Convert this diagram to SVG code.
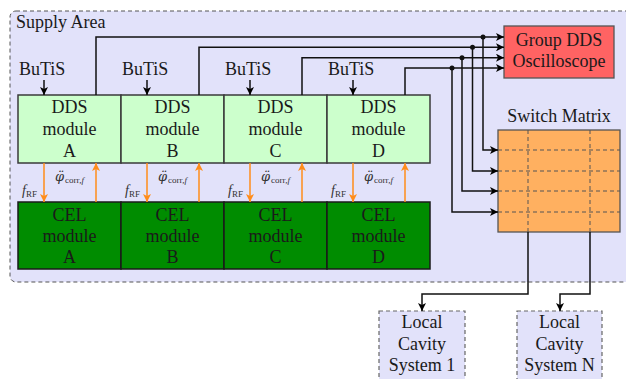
<svg xmlns="http://www.w3.org/2000/svg" width="626" height="379" viewBox="0 0 626 379">
<defs>
<marker id="ab" viewBox="0 0 10 10" refX="10" refY="5" markerWidth="8" markerHeight="8" markerUnits="userSpaceOnUse" orient="auto"><path d="M0,0 L10,5 L0,10 L2.5,5 Z" fill="#000"/></marker>
<marker id="ao" viewBox="0 0 10 10" refX="10" refY="5" markerWidth="8" markerHeight="8" markerUnits="userSpaceOnUse" orient="auto"><path d="M0,0 L10,5 L0,10 L2.5,5 Z" fill="#ff8c1a"/></marker>
<style>
text{font-family:"Liberation Serif","Times New Roman",serif;font-size:18px;fill:#1a1a1a;text-anchor:middle}
.area{fill:#e2e2fa;stroke:#555;stroke-width:1;stroke-dasharray:4 3}
.dds{fill:#ccffcc;stroke:#3a3a3a;stroke-width:1.5}
.cel{fill:#008c00;stroke:#1a1a1a;stroke-width:1.5}
.grp{fill:#ff6363;stroke:#555;stroke-width:1.3}
.sw{fill:#ffb060;stroke:#555;stroke-width:1.3}
.grid{stroke:#555;stroke-width:1;stroke-dasharray:4 3;fill:none}
.lc{fill:#e2e2fa;stroke:#666;stroke-width:1.2;stroke-dasharray:4 3}
.c{fill:none;stroke:#111;stroke-width:1.5}
.o{fill:none;stroke:#ff8c1a;stroke-width:1.5}
.lab{font-size:18px;text-anchor:start}
.sm{font-size:14px;text-anchor:start;font-style:italic;fill:#333}
.phi{font-family:"DejaVu Serif",serif;font-size:13px;font-style:italic}
.sub{font-size:9px;font-style:normal}
</style>
</defs>
<g id="supply-area">
<rect class="area" x="10" y="11" width="625" height="271" rx="6"/>
<text class="lab" x="16" y="28">Supply Area</text>
</g>
<g id="dds-a"><rect class="dds" x="18" y="95" width="103" height="68"/><text x="69.5" y="113">DDS</text><text x="69.5" y="135">module</text><text x="69.5" y="157">A</text></g>
<g id="dds-b"><rect class="dds" x="121" y="95" width="103" height="68"/><text x="172.5" y="113">DDS</text><text x="172.5" y="135">module</text><text x="172.5" y="157">B</text></g>
<g id="dds-c"><rect class="dds" x="224" y="95" width="103" height="68"/><text x="275.5" y="113">DDS</text><text x="275.5" y="135">module</text><text x="275.5" y="157">C</text></g>
<g id="dds-d"><rect class="dds" x="327" y="95" width="103" height="68"/><text x="378.5" y="113">DDS</text><text x="378.5" y="135">module</text><text x="378.5" y="157">D</text></g>
<g id="cel-a"><rect class="cel" x="18" y="202" width="103" height="67"/><text x="69.5" y="221">CEL</text><text x="69.5" y="242">module</text><text x="69.5" y="263">A</text></g>
<g id="cel-b"><rect class="cel" x="121" y="202" width="103" height="67"/><text x="172.5" y="221">CEL</text><text x="172.5" y="242">module</text><text x="172.5" y="263">B</text></g>
<g id="cel-c"><rect class="cel" x="224" y="202" width="103" height="67"/><text x="275.5" y="221">CEL</text><text x="275.5" y="242">module</text><text x="275.5" y="263">C</text></g>
<g id="cel-d"><rect class="cel" x="327" y="202" width="103" height="67"/><text x="378.5" y="221">CEL</text><text x="378.5" y="242">module</text><text x="378.5" y="263">D</text></g>
<g id="group-dds"><rect class="grp" x="504" y="26" width="110" height="52"/><text x="559" y="46">Group DDS</text><text x="559" y="67">Oscilloscope</text></g>
<g id="switch-matrix">
<text x="559" y="122">Switch Matrix</text>
<rect class="sw" x="498" y="130" width="122" height="102"/>
<path class="grid" d="M498,150H620M498,171H620M498,191H620M498,212H620M528,130V232M590,130V232"/>
</g>
<g id="local-1"><rect class="lc" x="379" y="311" width="86" height="80"/><text x="422" y="328">Local</text><text x="422" y="350">Cavity</text><text x="422" y="371">System 1</text></g>
<g id="local-n"><rect class="lc" x="517" y="311" width="85" height="80"/><text x="559.5" y="328">Local</text><text x="559.5" y="350">Cavity</text><text x="559.5" y="371">System N</text></g>
<g id="labels">
<text class="lab" x="19" y="75">BuTiS</text>
<text class="lab" x="122" y="75">BuTiS</text>
<text class="lab" x="225" y="75">BuTiS</text>
<text class="lab" x="328" y="75">BuTiS</text>
<text class="sm" x="55" y="181"><tspan class="phi">φ̈</tspan><tspan class="sub" dx="1" dy="2">corr,<tspan font-style="italic">f</tspan></tspan></text>
<text class="sm" x="158" y="181"><tspan class="phi">φ̈</tspan><tspan class="sub" dx="1" dy="2">corr,<tspan font-style="italic">f</tspan></tspan></text>
<text class="sm" x="261" y="181"><tspan class="phi">φ̈</tspan><tspan class="sub" dx="1" dy="2">corr,<tspan font-style="italic">f</tspan></tspan></text>
<text class="sm" x="364" y="181"><tspan class="phi">φ̈</tspan><tspan class="sub" dx="1" dy="2">corr,<tspan font-style="italic">f</tspan></tspan></text>
<text class="sm" x="22" y="195">f<tspan class="sub" dy="2">RF</tspan></text>
<text class="sm" x="125" y="195">f<tspan class="sub" dy="2">RF</tspan></text>
<text class="sm" x="228" y="195">f<tspan class="sub" dy="2">RF</tspan></text>
<text class="sm" x="331" y="195">f<tspan class="sub" dy="2">RF</tspan></text>
</g>
<g id="connectors">
<path class="c" marker-end="url(#ab)" d="M44,80V95"/>
<path class="c" marker-end="url(#ab)" d="M147,80V95"/>
<path class="c" marker-end="url(#ab)" d="M250,80V95"/>
<path class="c" marker-end="url(#ab)" d="M353,80V95"/>
<path class="o" marker-end="url(#ao)" d="M44,163V202"/>
<path class="o" marker-end="url(#ao)" d="M96,202V163"/>
<path class="o" marker-end="url(#ao)" d="M147,163V202"/>
<path class="o" marker-end="url(#ao)" d="M199,202V163"/>
<path class="o" marker-end="url(#ao)" d="M250,163V202"/>
<path class="o" marker-end="url(#ao)" d="M302,202V163"/>
<path class="o" marker-end="url(#ao)" d="M353,163V202"/>
<path class="o" marker-end="url(#ao)" d="M405,202V163"/>
<path class="c" marker-end="url(#ab)" d="M96,95V37H504"/>
<path class="c" marker-end="url(#ab)" d="M199,95V47.3H504"/>
<path class="c" marker-end="url(#ab)" d="M302,95V57.7H504"/>
<path class="c" marker-end="url(#ab)" d="M405,95V68H504"/>
<path class="c" marker-end="url(#ab)" d="M483,37V150H498"/>
<path class="c" marker-end="url(#ab)" d="M472.5,47.3V171H498"/>
<path class="c" marker-end="url(#ab)" d="M462,57.7V191H498"/>
<path class="c" marker-end="url(#ab)" d="M452,68V212H498"/>
<circle cx="483" cy="37" r="2.5" fill="#111"/>
<circle cx="472.5" cy="47.3" r="2.5" fill="#111"/>
<circle cx="462" cy="57.7" r="2.5" fill="#111"/>
<circle cx="452" cy="68" r="2.5" fill="#111"/>
<path class="c" marker-end="url(#ab)" d="M528,232V294H422V311"/>
<path class="c" marker-end="url(#ab)" d="M590,232V294H560V311"/>
</g>
</svg>
